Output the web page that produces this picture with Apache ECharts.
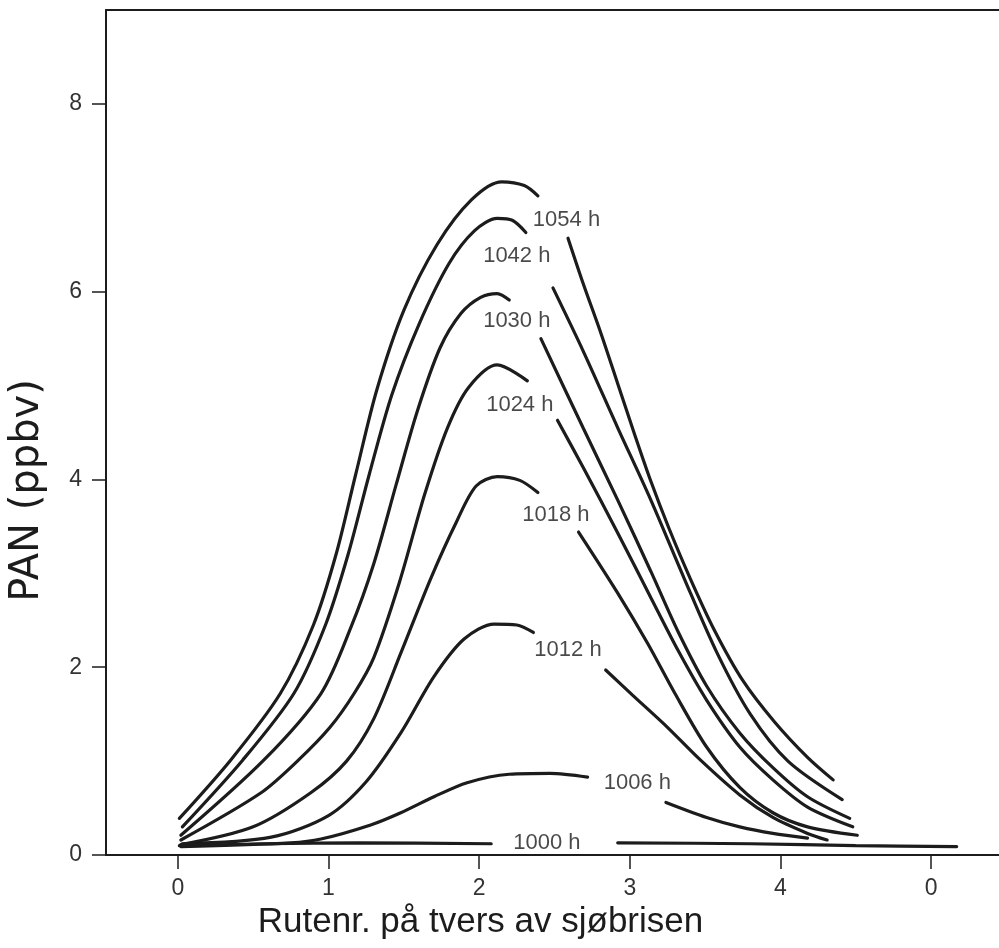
<!DOCTYPE html>
<html>
<head>
<meta charset="utf-8">
<script src="https://cdn.jsdelivr.net/npm/echarts@6/dist/echarts.min.js"></script>
<style>
  html, body { margin: 0; padding: 0; background: #fff; }
  #chart { width: 999px; height: 948px; }
</style>
</head>
<body>
<div id="chart"></div>
<script>
// x: rute number across the sea breeze, y: PAN (ppbv)
// every curve is drawn in two pieces with a gap where its label sits
const xTicks = [0, 1, 2, 3, 4, 5]
const xTickLabels = ['0', '1', '2', '3', '4', '0']
const yTicks = [0, 2, 4, 6, 8]

const c1054a = [[0.01,0.39],[0.35,1.01],[0.68,1.72],[0.90,2.45],[1.05,3.20],[1.18,4.05],[1.32,4.95],[1.50,5.80],[1.72,6.50],[1.95,6.98],[2.15,7.17],[2.30,7.13],[2.39,7.02]]
const c1054b = [[2.59,6.57],[2.69,6.09],[2.81,5.55],[2.92,5.02],[3.03,4.49],[3.14,3.98],[3.26,3.48],[3.40,2.95],[3.56,2.40],[3.75,1.86],[3.96,1.42],[4.18,1.04],[4.35,0.80]]

const c1042a = [[0.03,0.30],[0.43,1.01],[0.77,1.72],[0.98,2.45],[1.13,3.20],[1.27,4.05],[1.42,4.90],[1.60,5.65],[1.80,6.30],[1.97,6.65],[2.12,6.78],[2.22,6.76],[2.31,6.63]]
const c1042b = [[2.49,6.04],[2.69,5.37],[2.92,4.55],[3.14,3.78],[3.36,2.95],[3.58,2.15],[3.80,1.50],[4.05,1.00],[4.41,0.59]]

const c1030a = [[0.02,0.21],[0.57,1.01],[0.95,1.72],[1.15,2.43],[1.30,3.10],[1.45,3.95],[1.59,4.73],[1.74,5.40],[1.88,5.77],[2.01,5.94],[2.12,5.98],[2.20,5.91]]
const c1030b = [[2.41,5.50],[2.69,4.55],[2.92,3.78],[3.14,3.02],[3.32,2.38],[3.51,1.80],[3.73,1.30],[3.95,0.93],[4.18,0.62],[4.46,0.39]]

const c1024a = [[0.02,0.16],[0.55,0.66],[0.80,1.01],[1.01,1.36],[1.17,1.72],[1.30,2.10],[1.47,2.90],[1.64,3.85],[1.79,4.55],[1.93,4.98],[2.12,5.22],[2.32,5.05]]
const c1024b = [[2.52,4.63],[2.69,4.13],[2.92,3.43],[3.14,2.74],[3.32,2.18],[3.51,1.65],[3.73,1.15],[3.95,0.80],[4.18,0.51],[4.48,0.30]]

const c1018a = [[0.02,0.11],[0.50,0.30],[0.88,0.66],[1.12,1.00],[1.30,1.45],[1.48,2.15],[1.68,2.95],[1.85,3.55],[1.98,3.93],[2.12,4.03],[2.27,3.99],[2.39,3.86]]
const c1018b = [[2.66,3.44],[2.92,2.79],[3.12,2.25],[3.30,1.72],[3.51,1.15],[3.73,0.72],[3.95,0.45],[4.18,0.30],[4.51,0.21]]

const c1012a = [[0.03,0.12],[0.62,0.19],[1.00,0.42],[1.25,0.78],[1.48,1.30],[1.70,1.90],[1.90,2.30],[2.10,2.46],[2.25,2.45],[2.36,2.37]]
const c1012b = [[2.84,1.97],[3.02,1.70],[3.25,1.36],[3.47,1.01],[3.73,0.64],[3.95,0.40],[4.18,0.23],[4.31,0.16]]

const c1006a = [[0.02,0.09],[0.75,0.13],[0.95,0.17],[1.28,0.32],[1.48,0.45],[1.70,0.62],[1.92,0.77],[2.20,0.86],[2.47,0.87],[2.72,0.83]]
const c1006b = [[3.24,0.56],[3.51,0.40],[3.73,0.30],[3.95,0.23],[4.18,0.18]]

const c1000a = [[0.01,0.10],[0.60,0.12],[1.20,0.13],[2.08,0.12]]
const c1000b = [[2.92,0.13],[3.80,0.12],[4.50,0.10],[5.17,0.09]]

const curvePieces = [c1054a, c1054b, c1042a, c1042b, c1030a, c1030b, c1024a, c1024b,
  c1018a, c1018b, c1012a, c1012b, c1006a, c1006b, c1000a, c1000b]

// curve labels and where they sit (data coords)
const labelNames = ['1054 h', '1042 h', '1030 h', '1024 h', '1018 h', '1012 h', '1006 h', '1000 h']
const labelX = [2.58, 2.25, 2.25, 2.27, 2.51, 2.59, 3.05, 2.45]
const labelY = [6.76, 6.38, 5.69, 4.79, 3.62, 2.18, 0.77, 0.13]

const ink = '#1c1c1c'
const font = '"Liberation Sans", Arial, sans-serif'

const chart = echarts.init(document.getElementById('chart'))

const lineSeries = curvePieces.map(d => ({
  type: 'line',
  data: d,
  smooth: 0.3,
  showSymbol: false,
  symbol: 'none',
  lineStyle: { color: ink, width: 3.2, cap: 'round' },
  silent: true
}))

const labelSeries = {
  type: 'scatter',
  symbolSize: 0,
  data: labelNames.map((n, i) => ({ name: n, value: [labelX[i], labelY[i]] })),
  label: {
    show: true,
    position: 'inside',
    formatter: p => p.name,
    color: ink,
    fontFamily: font,
    fontSize: 22
  },
  silent: true
}

const option = {
  animation: false,
  backgroundColor: '#fff',
  grid: { left: 105, right: 0, top: 10, bottom: 93 },
  xAxis: [{
    type: 'value',
    min: -0.477,
    max: 5.451,
    name: 'Rutenr. på tvers av sjøbrisen',
    nameLocation: 'middle',
    nameGap: 38,
    nameTextStyle: { fontFamily: font, fontSize: 35, color: ink, padding: [0, 144, 0, 0] },
    axisLine: { show: true, onZero: false, lineStyle: { color: ink, width: 2 } },
    axisTick: { show: true, length: 14, customValues: xTicks, lineStyle: { color: ink, width: 1.5 } },
    axisLabel: {
      customValues: xTicks,
      formatter: v => xTickLabels[xTicks.indexOf(v)],
      margin: 22,
      fontFamily: font,
      fontSize: 23,
      color: '#333'
    },
    splitLine: { show: false }
  }, {
    type: 'value',
    position: 'top',
    min: -0.477,
    max: 5.451,
    axisLine: { show: true, onZero: false, lineStyle: { color: ink, width: 2 } },
    axisTick: { show: false },
    axisLabel: { show: false },
    splitLine: { show: false }
  }],
  yAxis: {
    type: 'value',
    min: 0,
    max: 9,
    name: 'PAN (ppbv)',
    nameLocation: 'middle',
    nameRotate: 90,
    nameGap: 58,
    nameTextStyle: { fontFamily: '"DejaVu Sans", sans-serif', fontSize: 40, color: ink, padding: [0, 116, 0, 0] },
    axisLine: { show: true, onZero: false, lineStyle: { color: ink, width: 2 } },
    axisTick: { show: true, length: 14, customValues: yTicks, lineStyle: { color: ink, width: 1.5 } },
    axisLabel: {
      customValues: yTicks,
      margin: 24,
      fontFamily: font,
      fontSize: 23,
      color: '#333'
    },
    splitLine: { show: false }
  },
  series: [...lineSeries, labelSeries]
}

chart.setOption(option)
</script>
</body>
</html>
